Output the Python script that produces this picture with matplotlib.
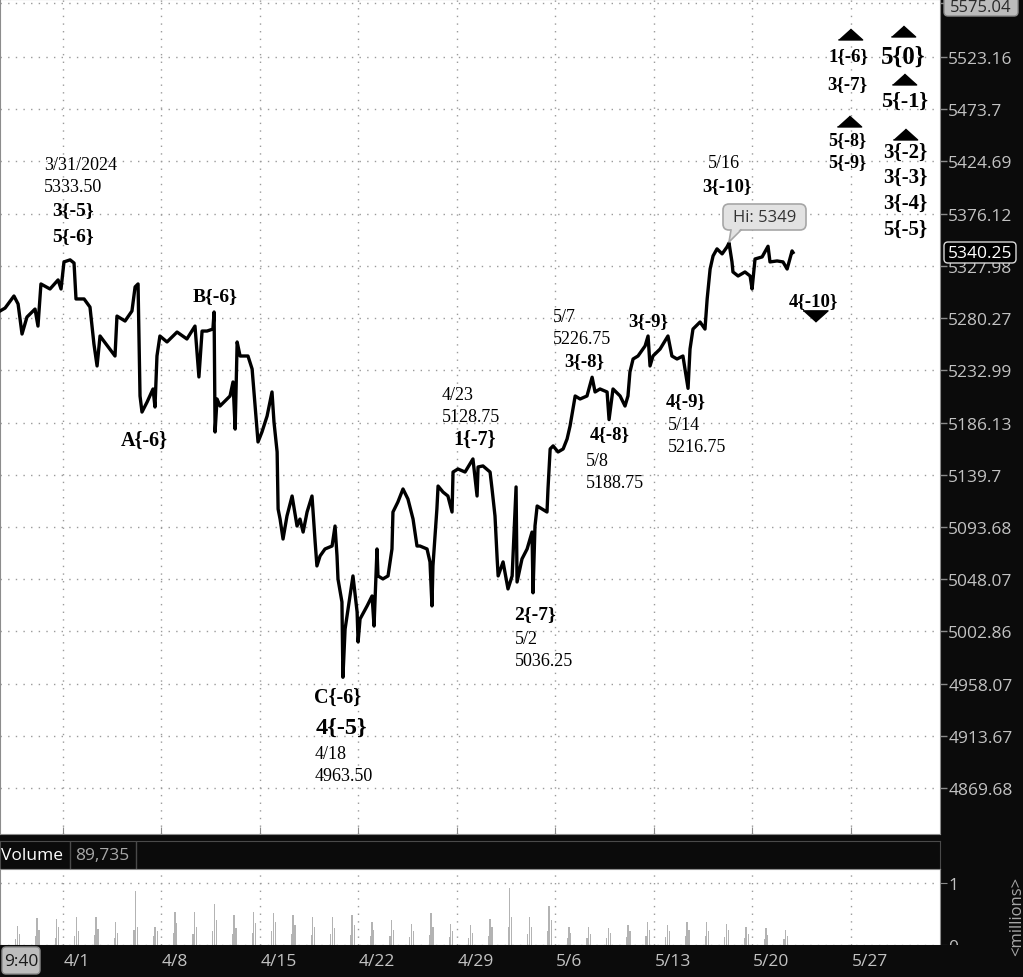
import matplotlib
matplotlib.use("Agg")
import matplotlib.pyplot as plt
import matplotlib.transforms as mtransforms
from matplotlib.patches import Polygon, FancyBboxPatch
from matplotlib.ticker import NullLocator, NullFormatter

plt.rcParams['font.family'] = ['Open Sans', 'DejaVu Sans']

# ---------------- data ----------------
# x = trading sessions since 4/1 (one session per day, 5 per week)
days = [-3.18,-2.92,-2.47,-2.26,-2.06,-1.81,-1.40,-1.25,-1.10,-0.64,
        -0.23,-0.08,0.07,0.38,0.58,0.68,1.09,1.39,1.59,1.75,
        1.90,2.20,2.66,2.76,3.17,3.52,3.68,3.83,3.93,4.03,
        4.29,4.59,4.69,4.79,4.94,5.30,5.81,6.31,6.72,6.82,
        6.92,7.08,7.33,7.63,7.69,7.74,7.84,7.99,8.50,8.65,
        8.76,8.86,9.01,9.41,9.62,9.77,9.92,10.12,10.38,10.63,
        10.73,10.89,10.94,11.04,11.19,11.39,11.65,11.90,12.05,12.21,
        12.41,12.66,12.82,12.91,13.07,13.32,13.68,13.83,13.93,13.98,
        14.18,14.23,14.34,14.49,14.74,14.95,15.00,15.10,15.46,15.71,
        15.81,15.96,16.01,16.26,16.52,16.72,16.77,17.02,17.28,17.53,
        17.79,17.99,18.14,18.50,18.65,18.75,18.80,19.00,19.06,19.31,
        19.56,19.77,19.82,20.07,20.43,20.83,21.04,21.09,21.34,21.70,
        21.80,21.95,22.06,22.11,22.36,22.61,22.82,23.02,23.07,23.32,
        23.58,23.83,23.88,23.98,24.09,24.34,24.59,24.64,24.75,24.90,
        25.15,25.41,25.61,25.76,25.91,26.02,26.27,26.62,26.88,27.03,
        27.28,27.64,27.74,27.94,28.30,28.55,28.70,28.80,28.96,29.21,
        29.57,29.72,29.82,29.97,30.33,30.73,30.93,31.19,31.49,31.75,
        31.85,32.00,32.36,32.61,32.72,32.87,33.02,33.22,33.48,33.73,
        33.83,33.98,34.03,34.29,34.64,34.90,35.00,35.15,35.51,35.81,
        35.91,36.27,36.57,36.78,37.03,37.08]
prices = [5286.7,5289.4,5300.4,5293.1,5265.8,5281.2,5288.5,5273.0,5311.4,5306.8,
          5315.1,5306.8,5331.6,5333.5,5330.6,5297.7,5297.7,5290.3,5256.8,5236.9,
          5264.0,5256.8,5245.9,5282.1,5277.6,5286.7,5308.7,5311.4,5209.9,5195.5,
          5204.5,5216.2,5200.0,5245.9,5264.0,5258.6,5267.6,5261.3,5273.0,5249.5,
          5227.0,5268.5,5268.5,5270.3,5285.8,5177.7,5207.2,5200.9,5209.9,5222.5,
          5180.3,5258.6,5245.9,5245.9,5234.2,5200.9,5168.8,5177.7,5191.9,5213.5,
          5186.6,5159.9,5109.4,5100.6,5083.1,5103.3,5120.9,5094.5,5100.6,5089.2,
          5106.8,5120.9,5080.5,5059.6,5068.3,5074.4,5077.0,5094.5,5068.3,5048.2,
          5028.3,4963.5,5004.9,5022.3,5050.9,5019.7,4993.8,5013.6,5024.9,5033.5,
          5007.5,5074.4,5050.9,5048.3,5050.9,5074.4,5106.8,5115.6,5127.1,5118.3,
          5100.6,5077.0,5077.0,5074.4,5063.1,5024.9,5059.6,5109.4,5129.7,5124.4,
          5120.9,5106.8,5142.1,5144.8,5142.1,5153.7,5120.9,5146.6,5147.5,5142.1,
          5127.1,5103.3,5065.7,5050.9,5063.1,5039.6,5050.9,5128.9,5045.6,5065.7,
          5074.4,5089.2,5036.25,5094.5,5112.1,5109.4,5106.8,5127.1,5162.6,5165.3,
          5159.9,5162.6,5171.5,5183.0,5198.2,5209.9,5207.2,5209.9,5226.75,5213.5,
          5216.2,5213.5,5188.75,5216.2,5209.9,5200.9,5209.9,5231.5,5243.2,5245.9,
          5255.0,5264.0,5236.9,5245.9,5252.2,5264.0,5245.9,5243.2,5245.9,5216.75,
          5252.2,5270.3,5276.7,5270.3,5297.7,5325.1,5337.1,5343.6,5339.0,5345.4,
          5349.0,5331.6,5322.4,5318.7,5322.4,5318.7,5306.8,5334.3,5336.2,5346.0,
          5331.6,5332.5,5331.6,5325.1,5341.7,5340.25]

price_ticks = [5575.04, 5523.16, 5473.7, 5424.69, 5376.12, 5327.98, 5280.27,
               5232.99, 5186.13, 5139.7, 5093.68, 5048.07, 5002.86, 4958.07,
               4913.67, 4869.68]
last_price = 5340.25
hi_text = "Hi: 5349"

week_pos = [0, 5, 10, 15, 20, 25, 30, 35, 40]
week_labels = ['4/1', '4/8', '4/15', '4/22', '4/29', '5/6', '5/13', '5/20', '5/27']

# volume (millions), one session per entry, sessions -3 .. 36
vol_sessions = list(range(-3, 37))
vol_peak = [0.31,0.44,0.43,0.45,0.45,0.37,0.87,0.29,0.53,0.53,
            0.66,0.48,0.53,0.52,0.48,0.45,0.45,0.48,0.37,0.40,
            0.34,0.52,0.34,0.32,0.43,0.92,0.45,0.63,0.29,0.29,
            0.27,0.32,0.37,0.33,0.37,0.37,0.34,0.29,0.27,0.24]
vol_post = [0.18,0.24,0.30,0.22,0.26,0.20,0.30,0.22,0.35,0.30,
            0.40,0.28,0.36,0.38,0.32,0.30,0.28,0.33,0.25,0.25,
            0.22,0.30,0.22,0.20,0.30,0.45,0.30,0.40,0.20,0.18,
            0.20,0.22,0.24,0.22,0.25,0.22,0.24,0.18,0.16,0.15]
vol_pre = [0.10,0.15,0.12,0.14,0.16,0.12,0.25,0.15,0.20,0.18,
           0.22,0.18,0.20,0.22,0.18,0.16,0.18,0.17,0.14,0.15,
           0.13,0.16,0.13,0.12,0.15,0.30,0.18,0.22,0.12,0.12,
           0.11,0.13,0.14,0.13,0.15,0.14,0.13,0.11,0.10,0.09]
vol_last = "89,735"

# wave labels: (text, x_px, y_px[, size])
labels_regular = [("3/31/2024", 44, 165), ("5333.50", 44, 187),
                  ("4/18", 315, 755), ("4963.50", 315, 777),
                  ("4/23", 442, 396), ("5128.75", 442, 418),
                  ("5/2", 515, 640), ("5036.25", 515, 662),
                  ("5/7", 553, 318), ("5226.75", 553, 340),
                  ("5/8", 586, 462), ("5188.75", 586, 484),
                  ("5/14", 668, 426), ("5216.75", 668, 448),
                  ("5/16", 708, 164)]
labels_bold = [("3{-5}", 73, 211, 14), ("5{-6}", 73, 237, 14),
               ("B{-6}", 215, 297, 14), ("A{-6}", 144, 441, 14.5),
               ("C{-6}", 338, 698, 14.5), ("4{-5}", 341, 728, 17.5),
               ("1{-7}", 475, 440, 14.5), ("2{-7}", 535, 615, 14),
               ("3{-8}", 584, 362, 13.5), ("4{-8}", 610, 435, 13.5),
               ("3{-9}", 648, 322, 13.5), ("4{-9}", 686, 402, 13.5),
               ("3{-10}", 727, 187, 13.5), ("4{-10}", 813, 302, 13.5),
               ("1{-6}", 849, 57, 13.5), ("3{-7}", 847, 85, 13.5),
               ("5{-8}", 847, 141, 13), ("5{-9}", 847, 163, 13),
               ("5{0}", 903, 57, 18), ("5{-1}", 905, 102, 16),
               ("3{-2}", 905, 153, 15), ("3{-3}", 905, 178, 15),
               ("3{-4}", 905, 204, 15), ("5{-5}", 905, 230, 15)]
tri_up = [(850, 35), (849, 122), (903, 32), (904, 80), (905, 135)]
tri_down = [(815, 317)]

# ---------------- layout ----------------
W, H = 1023, 978
fig = plt.figure(figsize=(W / 100, H / 100), dpi=100, facecolor='#0b0b0b')


def rect(l, t, r, b):
    return [l / W, 1 - b / H, (r - l) / W, (b - t) / H]


MAIN_R, MAIN_B = 940, 835
ax = fig.add_axes(rect(0, 0, MAIN_R, MAIN_B))
hdr = fig.add_axes(rect(0, 842, MAIN_R, 870))
vax = fig.add_axes(rect(0, 870, MAIN_R, 946))
bax = fig.add_axes(rect(0, 946, W, H))
bax.set_zorder(5)

XL = (-3.178, 44.54)
GRID = dict(color='#9a9a9a', linestyle=(0, (1, 4.5)), linewidth=1)
SPINE = '#8c8c8c'
LBL = '#c2c2c2'

# ---- main price pane
ax.set_facecolor('white')
ax.plot(days, prices, color='black', lw=2.4, solid_joinstyle='round', zorder=3)
ax.set_yscale('log')
ax.set_xlim(*XL)
ax.set_ylim(4831.3, 5578.6)
ax.yaxis.set_minor_locator(NullLocator())
ax.yaxis.set_minor_formatter(NullFormatter())
ax.set_yticks(price_ticks)
ax.set_yticklabels([''] + [f"{v:g}" for v in price_ticks[1:]])
ax.yaxis.tick_right()
ax.tick_params(axis='y', which='major', direction='out', length=5, width=1,
               color='#8a8a8a', labelcolor=LBL, labelsize=12.5, pad=1)
ax.set_xticks(week_pos)
ax.set_xticklabels([])
ax.tick_params(axis='x', direction='in', length=5, color='#8a8a8a')
ax.grid(True, **GRID)
for s in ax.spines.values():
    s.set_color(SPINE)

ptr = mtransforms.Affine2D().scale(1 / MAIN_R, -1 / MAIN_B).translate(0, 1) + ax.transAxes
serif = 'Liberation Serif'
for txt, x, y in labels_regular:
    ax.text(x, y, txt, transform=ptr, family=serif, fontsize=13, ha='left',
            va='center', color='black', zorder=6)
for txt, x, y, sz in labels_bold:
    ax.text(x, y, txt, transform=ptr, family=serif, fontsize=sz, weight='bold',
            ha='center', va='center', color='black', zorder=6)

up_marker = [(-1, -0.45), (1, -0.45), (0, 0.45)]
down_marker = [(-1, 0.45), (1, 0.45), (0, -0.45)]
for x, y in tri_up:
    ax.plot([x], [y], marker=up_marker, ms=17.5, color='black', transform=ptr,
            clip_on=False, zorder=6, lw=0)
for x, y in tri_down:
    ax.plot([x], [y], marker=down_marker, ms=18, color='black', transform=ptr,
            clip_on=False, zorder=6, lw=0)

# Hi callout
box = FancyBboxPatch((723, 205), 83, 26, boxstyle='round,pad=0,rounding_size=6',
                     transform=ptr, fc='#e2e2e2', ec='#a6a6a6', lw=1.2, zorder=7)
ax.add_patch(box)
ax.add_patch(Polygon([(731, 229), (741, 229), (729, 243)], closed=True,
                     transform=ptr, fc='#e2e2e2', ec='none', zorder=8))
ax.plot([731, 729, 741], [231, 243, 231], color='#a6a6a6', lw=1.2,
        transform=ptr, zorder=8)
ax.text(764.5, 218, hi_text, transform=ptr, ha='center', va='center',
        fontsize=12, color='#333333', zorder=9)

# ---- volume header
hdr.set_facecolor('#0b0b0b')
hdr.set_xticks([]); hdr.set_yticks([])
for s in hdr.spines.values():
    s.set_color('#4a4a4a')
hptr = mtransforms.Affine2D().scale(1 / MAIN_R, -1 / 28).translate(0, 1) + hdr.transAxes
hdr.text(1, 14.5, "Volume", transform=hptr, color='white', fontsize=12.5,
         ha='left', va='center')
hdr.plot([70, 70], [0, 28], color='#4a4a4a', lw=1, transform=hptr)
hdr.text(75, 14.5, vol_last, transform=hptr, color='#a8a8a8', fontsize=12.5,
         ha='left', va='center')
hdr.plot([136, 136], [0, 28], color='#4a4a4a', lw=1, transform=hptr)

# ---- volume pane
vax.set_facecolor('white')
vcol = '#b3b3b3'
vax.bar([s + 0.62 for s in vol_sessions], vol_pre, width=0.06, color=vcol, lw=0)
vax.bar([s + 0.70 for s in vol_sessions], vol_peak, width=0.07, color=vcol, lw=0)
vax.bar([s + 0.80 for s in vol_sessions], vol_post, width=0.06, color=vcol, lw=0)
vax.set_xlim(*XL)
vax.set_ylim(0, 1.234)
vax.set_xticks(week_pos)
vax.set_xticklabels([])
vax.tick_params(axis='x', length=0)
vax.yaxis.tick_right()
vax.set_yticks([0, 1])
vax.set_yticklabels(['0', '1'])
vax.tick_params(axis='y', direction='out', length=5, color='#8a8a8a',
                labelcolor=LBL, labelsize=12.5, pad=1)
vax.grid(True, **GRID)
for s in vax.spines.values():
    s.set_color(SPINE)

# ---- bottom date strip
bax.set_facecolor('#0b0b0b')
bax.set_xticks([]); bax.set_yticks([])
for s in bax.spines.values():
    s.set_visible(False)
bax.set_xlim(XL[0], XL[0] + (XL[1] - XL[0]) * W / MAIN_R)
bax.set_ylim(0, 1)
for p, lab in zip(week_pos, week_labels):
    bax.text(p + 0.05, 0.5, lab, color=LBL, fontsize=12.5, ha='left', va='center')

# ---- figure-level labels
fptr = mtransforms.Affine2D().scale(1 / W, -1 / H).translate(0, 1) + fig.transFigure
fig.add_artist(FancyBboxPatch((2, 948), 38, 27, boxstyle='round,pad=0,rounding_size=4',
                              transform=fptr, fc='#bdbdbd', ec='#8a8a8a', lw=1, zorder=9))
fig.text(21, 961.5, "9:40", transform=fptr, ha='center', va='center', fontsize=12.5,
         color='#1a1a1a', zorder=10)

fig.add_artist(FancyBboxPatch((944, 243), 72, 21, boxstyle='round,pad=0,rounding_size=4',
                              transform=fptr, fc='black', ec='#d8d8d8', lw=1, zorder=9))
fig.text(980, 253.5, f"{last_price:.2f}", transform=fptr, ha='center', va='center',
         fontsize=12.5, color='white', zorder=10)

fig.add_artist(FancyBboxPatch((944, -6), 74, 23, boxstyle='round,pad=0,rounding_size=4',
                              transform=fptr, fc='#bcbcbc', ec='#8a8a8a', lw=1, zorder=9))
fig.text(981, 8, f"{price_ticks[0]:.2f}", transform=fptr, ha='center', va='center',
         fontsize=12, color='#2a2a2a', zorder=10)

fig.text(1017, 916, "<millions>", transform=fptr, ha='center', va='center',
         rotation=90, fontsize=12, color='#a8a8a8', zorder=10)

fig.savefig("out.png", dpi=100, facecolor=fig.get_facecolor())
